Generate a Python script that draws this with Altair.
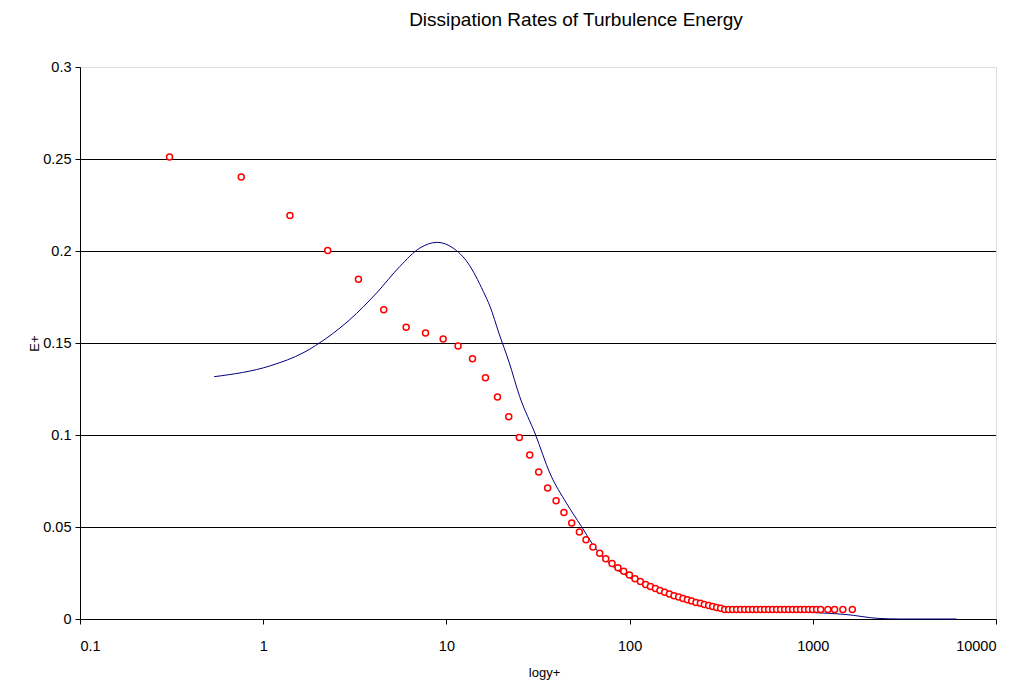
import altair as alt
import pandas as pd

FONT = "Liberation Sans"

# Red circle series (measured/DNS data)
marker_x = [0.308, 0.759, 1.40, 2.25, 3.31, 4.55, 6.03, 7.69, 9.60, 11.58,
            13.88, 16.34, 19.0, 21.9, 25.0, 28.5, 31.9, 35.7, 39.7, 43.8,
            48.3, 53.2, 57.8, 63.1, 68.7, 74.1, 80.2, 86.4, 92.9, 99.8,
            107.0, 114.5, 122.4, 129.9, 138.3, 146.5, 155.4, 164.9, 174.7, 185.3,
            195.6, 206.7, 218.2, 230.3, 243.4, 255.9, 270.1, 284.0, 298.7, 314.1,
            330.3, 347.2, 365.1, 383.9, 403.7, 424.5, 446.3, 469.4, 493.6, 519.0,
            545.8, 573.9, 603.4, 634.7, 667.4, 701.8, 737.9, 775.9, 816.0, 858.0,
            902.2, 948.5, 997.3, 1049, 1103, 1209, 1315, 1459, 1643]
marker_y = [0.2511, 0.2402, 0.2193, 0.2003, 0.1846, 0.1681, 0.1585, 0.1554, 0.1522, 0.1484,
            0.1415, 0.1311, 0.1207, 0.1099, 0.0987, 0.0891, 0.0799, 0.0712, 0.0643, 0.0579,
            0.0522, 0.0473, 0.0431, 0.0391, 0.0357, 0.0328, 0.0301, 0.0279, 0.0259, 0.0239,
            0.0219, 0.0204, 0.0188, 0.0177, 0.0166, 0.0155, 0.0145, 0.0136, 0.0127, 0.0120,
            0.0112, 0.0105, 0.0098, 0.0090, 0.0085, 0.0079, 0.0074, 0.0068, 0.0063, 0.0058,
            0.0052, 0.0052, 0.0052, 0.0052, 0.0052, 0.0052, 0.0052, 0.0052, 0.0052, 0.0052,
            0.0052, 0.0052, 0.0052, 0.0052, 0.0052, 0.0052, 0.0052, 0.0052, 0.0052, 0.0052,
            0.0052, 0.0052, 0.0052, 0.0052, 0.0052, 0.0052, 0.0052, 0.0052, 0.0052]

# Blue line series (model)
line_x = [0.54, 1.10, 1.67, 2.22, 2.97, 4.16, 5.57, 7.16, 8.90, 10.88,
          13.1, 15.9, 17.3, 19.4, 22.0, 25.1, 30.7, 36.7, 45.2, 54.6, 65.0,
          80.0, 100.0, 150.0, 200.0, 300.0, 500.0, 800.0, 1000.0, 1500.0, 2300.0,
          3000.0, 6085.0]
line_y = [0.1317, 0.1377, 0.1449, 0.1527, 0.1627, 0.1772, 0.1916, 0.2016, 0.2047, 0.2016,
          0.1935, 0.1780, 0.1699, 0.1550, 0.1395, 0.1210, 0.1000, 0.0793, 0.0630, 0.0503, 0.0385,
          0.0290, 0.0225, 0.0145, 0.0105, 0.0065, 0.0045, 0.0038, 0.0035, 0.0025, 0.0003,
          0.0, 0.0]

grid_y = [0.05, 0.1, 0.15, 0.2, 0.25]
x_ticks = [0.1, 1, 10, 100, 1000, 10000]
y_ticks = [0, 0.05, 0.1, 0.15, 0.2, 0.25, 0.3]

markers = pd.DataFrame({"x": marker_x, "y": marker_y})
line = pd.DataFrame({"x": line_x, "y": line_y})
grid = pd.DataFrame({"y": grid_y})

xscale = alt.Scale(type="log", domain=[0.1, 10000], nice=False)
yscale = alt.Scale(domain=[0, 0.3], nice=False)

xaxis = alt.Axis(title="logy+", values=x_ticks, format="~g", grid=False,
                 domainColor="black", tickColor="black", tickSize=5,
                 labelPadding=15, labelFontSize=14.5, labelFont=FONT, labelColor="black",
                 titleFont=FONT, titleFontSize=13, titleFontWeight="normal",
                 titleColor="black", titlePadding=14, titleX=464)
yaxis = alt.Axis(title="E+", values=y_ticks, format="~g", grid=False,
                 domainColor="black", tickColor="black", tickSize=5,
                 labelPadding=4, labelFontSize=14.5, labelFont=FONT, labelColor="black",
                 titleFont=FONT, titleFontSize=13, titleFontWeight="normal",
                 titleColor="black", titlePadding=1)

grid_layer = alt.Chart(grid).mark_rule(color="black", strokeWidth=1, yOffset=0.5).encode(
    y=alt.Y("y:Q", scale=yscale, axis=yaxis)
)

line_layer = alt.Chart(line).mark_line(
    color="#000080", strokeWidth=1, interpolate="monotone"
).encode(
    x=alt.X("x:Q", scale=xscale, axis=xaxis),
    y=alt.Y("y:Q", scale=yscale, axis=yaxis),
)

point_layer = alt.Chart(markers).mark_circle(
    fill="white", stroke="#FF0000", strokeWidth=1.5, size=36, opacity=1, fillOpacity=1
).encode(
    x=alt.X("x:Q", scale=xscale, axis=xaxis),
    y=alt.Y("y:Q", scale=yscale, axis=yaxis),
)

chart = alt.layer(grid_layer, line_layer, point_layer).properties(
    width=916,
    height=552,
    autosize=alt.AutoSizeParams(type="none"),
    padding={"left": 72, "top": 59, "right": 16, "bottom": 61},
    title=alt.TitleParams(
        "Dissipation Rates of Turbulence Energy",
        font=FONT, fontSize=19, fontWeight="normal", color="black",
        anchor="middle", dx=38, offset=29,
    ),
).configure_view(stroke="#808080", strokeWidth=1).configure(background="white")

chart.save("out.html", embed_options={"renderer": "svg", "actions": False})
